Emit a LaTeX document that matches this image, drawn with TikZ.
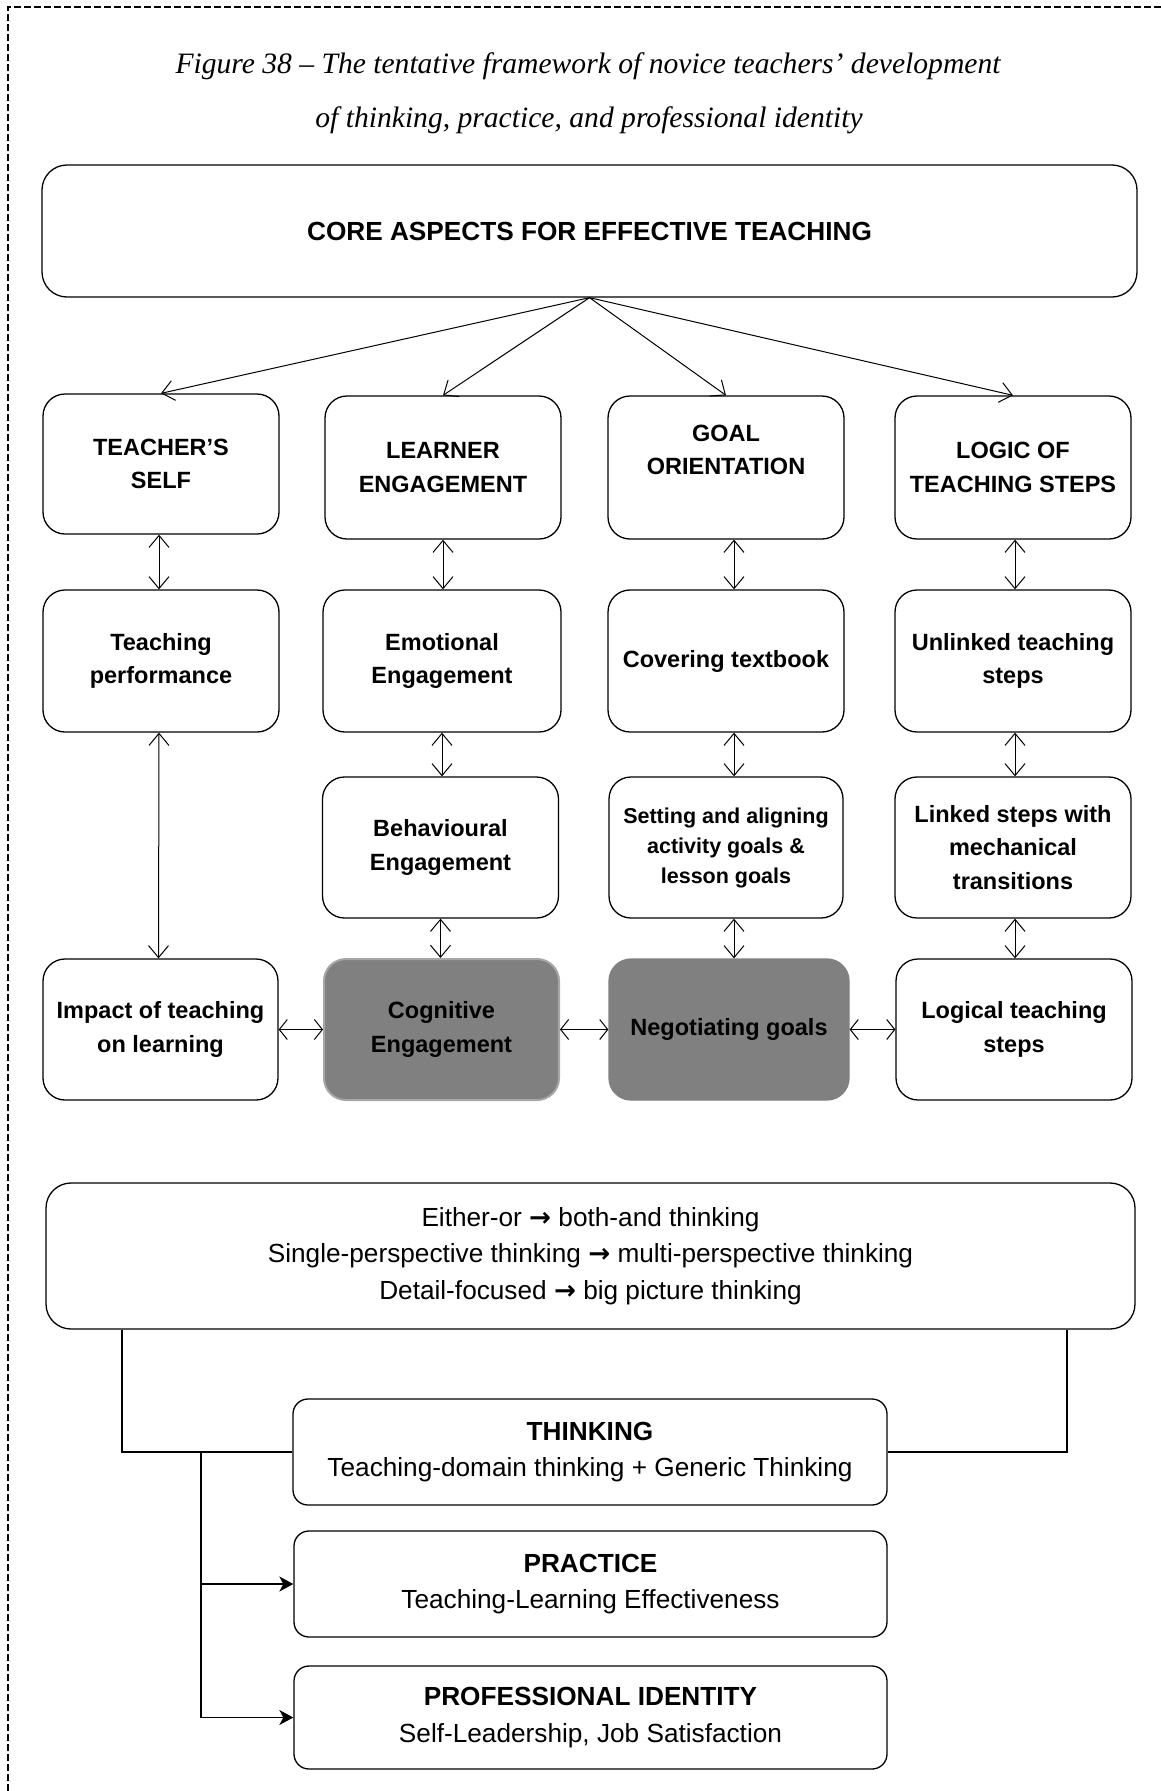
\documentclass[tikz,border=0pt]{standalone}
\usepackage{fontspec}
\setmainfont{Liberation Sans}
\newfontfamily\capfont{Liberation Serif}
\newfontfamily\arrfont{DejaVu Sans}
\newcommand{\rarr}{{\arrfont\bfseries →}}
\usetikzlibrary{arrows.meta}
\definecolor{boxgray}{HTML}{808080}
\definecolor{lightedge}{HTML}{A6A6A6}
\tikzset{
  stdbox/.style={draw, line width=1.3pt, rounded corners=22pt, align=center, inner sep=0pt,
    minimum width=236pt, minimum height=141pt, font=\bfseries\fontsize{23.5}{33.5}\selectfont},
  smallbox/.style={stdbox, font=\bfseries\fontsize{21.5}{30}\selectfont},
  graybox/.style={stdbox, fill=boxgray},
  lowbox/.style={draw, line width=1.3pt, rounded corners=15pt, align=center, inner sep=0pt,
    minimum width=594pt, font=\fontsize{26.2}{36.5}\selectfont},
  conn/.style={line width=1pt, -{Straight Barb[length=12pt,width=20pt,line width=1pt]}},
  dconn/.style={line width=1pt, {Straight Barb[length=12pt,width=20pt,line width=1pt]}-{Straight Barb[length=12pt,width=20pt,line width=1pt]}},
  hconn/.style={line width=1pt, {Straight Barb[length=8pt,width=20pt,line width=1pt]}-{Straight Barb[length=8pt,width=20pt,line width=1pt]}},
  fconn/.style={line width=1.3pt, -{Stealth[length=14pt,width=15pt,inset=4pt]}},
  plain/.style={line width=1.3pt},
  captxt/.style={font=\capfont\itshape\fontsize{29.6}{34}\selectfont, inner sep=0pt}
}
\begin{document}
\begin{tikzpicture}[x=1pt, y=-1pt]
\useasboundingbox (0,0) rectangle (1161,1791);
\draw[line width=1.2pt, dash pattern=on 7pt off 3pt] (8,1791) -- (8,7) -- (1161,7);

\node[captxt] (cap1) at (588,66) {Figure 38 – The tentative framework of novice teachers’ development};
\node[captxt] (cap2) at (589,120) {of thinking, practice, and professional identity};

\node[stdbox, minimum width=1095pt, minimum height=132pt, rounded corners=25pt, font=\bfseries\fontsize{26.2}{32}\selectfont] (core) at (589.5,231) {CORE ASPECTS FOR EFFECTIVE TEACHING};

% row 1
\node[stdbox, minimum height=140pt] (ts) at (161,464) {TEACHER’S\\SELF};
\node[stdbox, minimum height=143pt] (le) at (443,467.5) {LEARNER\\ENGAGEMENT};
\node[stdbox, minimum height=143pt] (go) at (726,467.5) {\smash{\raisebox{10pt}{\begin{tabular}{@{}c@{}}GOAL\\ORIENTATION\end{tabular}}}};
\node[stdbox, minimum height=143pt] (lt) at (1013,467.5) {LOGIC OF\\TEACHING STEPS};
% row 2
\node[stdbox, minimum height=142pt] (tp) at (161,661) {Teaching\\performance};
\node[stdbox, minimum height=142pt, minimum width=238pt] (ee) at (442,661) {Emotional\\Engagement};
\node[stdbox, minimum height=142pt] (ct) at (726,661) {Covering textbook};
\node[stdbox, minimum height=142pt] (ut) at (1013,661) {Unlinked teaching\\steps};
% row 3
\node[stdbox] (be) at (440.5,847.5) {Behavioural\\Engagement};
\node[smallbox, minimum width=234pt] (sa) at (726,847.5) {Setting and aligning\\activity goals \&\\lesson goals};
\node[stdbox] (ls) at (1013,847.5) {Linked steps with\\mechanical\\transitions};
% row 4
\node[stdbox, minimum width=235pt] (im) at (160.5,1029.5) {Impact of teaching\\on learning};
\node[graybox, draw=lightedge, minimum width=235pt, line width=2pt] (ce) at (441.5,1029.5) {Cognitive\\Engagement};
\node[graybox, draw=boxgray, minimum width=240pt] (ng) at (729,1029.5) {Negotiating goals};
\node[stdbox] (lo) at (1014,1029.5) {Logical teaching\\steps};

% arrows from core
\foreach \t in {ts,le,go,lt} \draw[conn] (core.south) -- (\t.north);

% vertical double arrows
\draw[dconn] ([xshift=-2pt]ts.south) -- ([xshift=-2pt]tp.north);
\draw[dconn] ([xshift=-2pt]tp.south) -- ([xshift=-2pt]im.north);
\draw[dconn] (le.south) -- (le.south |- ee.north);
\draw[dconn] (ee.south) -- (ee.south |- be.north);
\draw[dconn] (be.south) -- (be.south |- ce.north);
\draw[dconn] ([xshift=8pt]go.south) -- ([xshift=8pt]ct.north);
\draw[dconn] ([xshift=8pt]ct.south) -- ([xshift=8pt]sa.north);
\draw[dconn] ([xshift=8pt]sa.south) -- ([xshift=5pt]ng.north);
\draw[dconn] ([xshift=2pt]lt.south) -- ([xshift=2pt]ut.north);
\draw[dconn] ([xshift=2pt]ut.south) -- ([xshift=2pt]ls.north);
\draw[dconn] ([xshift=2pt]ls.south) -- ([xshift=1pt]lo.north);

% horizontal double arrows
\draw[hconn] (im.east) -- (ce.west);
\draw[hconn] (ce.east) -- (ng.west);
\draw[hconn] (ng.east) -- (lo.west);

% lower part
\node[lowbox, minimum width=1089pt, minimum height=146pt, rounded corners=25pt] (shift) at (590.5,1256)
  {Either-or \rarr{} both-and thinking\\Single-perspective thinking \rarr{} multi-perspective thinking\\Detail-focused \rarr{} big picture thinking};
\node[lowbox, minimum height=106pt] (think) at (590,1452) {\textbf{THINKING}\\Teaching-domain thinking + Generic Thinking};
\node[lowbox, minimum height=106pt, minimum width=593pt] (prac) at (590.5,1584) {\textbf{PRACTICE}\\Teaching-Learning Effectiveness};
\node[lowbox, minimum height=103pt, minimum width=593pt] (prof) at (590.5,1717.5) {\textbf{PROFESSIONAL IDENTITY}\\Self-Leadership, Job Satisfaction};

\coordinate (L) at (122,1452);
\coordinate (R) at (1067,1452);
\coordinate (T) at (201,1452);
\draw[plain] (shift.south -| L) |- (think.west);
\draw[plain] (shift.south -| R) |- (think.east);
\draw[plain] (T) -- (T |- prof.west);
\draw[fconn] (T |- prac.west) -- (prac.west);
\draw[fconn] (T |- prof.west) -- (prof.west);
\end{tikzpicture}
\end{document}
